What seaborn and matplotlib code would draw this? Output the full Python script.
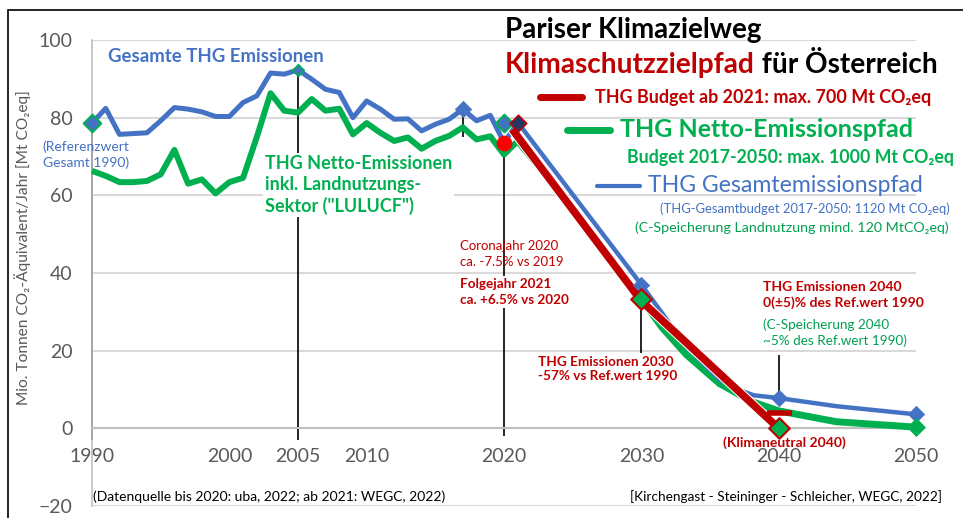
import matplotlib
matplotlib.use("Agg")
import matplotlib.pyplot as plt
import matplotlib.patheffects as pe
from matplotlib.lines import Line2D
from matplotlib.patches import Rectangle
from matplotlib.ticker import MultipleLocator
import seaborn as sns

# historic emissions (Mt CO2eq)
hist_years = list(range(1990, 2022))
total_hist = [78.6, 82.4, 75.7, 75.9, 76.1, 79.2, 82.6, 82.2, 81.5, 80.3, 80.3,
              83.9, 85.6, 91.5, 91.2, 92.3, 89.9, 87.3, 86.5, 80.0, 84.3, 82.2,
              79.6, 79.7, 76.6, 78.3, 79.6, 82.2, 79.2, 80.6, 73.6, 78.6]
net_hist = [66.3, 65.0, 63.4, 63.4, 63.7, 65.4, 71.7, 63.0, 64.1, 60.5, 63.4,
            64.5, 75.0, 86.3, 81.8, 81.3, 84.8, 81.8, 82.3, 75.7, 78.6, 76.1,
            74.0, 74.9, 72.0, 74.0, 75.3, 77.5, 74.4, 75.2, 70.5, 74.0]

# target paths
budget_years = [2020.6, 2030, 2040]
budget_path = [77.0, 32.8, 0.0]
net_years = [2021, 2023, 2026, 2028.7, 2030, 2031.5, 2033.3, 2035.7, 2038.1, 2040, 2044.2, 2050]
net_path = [74.0, 65.5, 51.8, 39.3, 33.3, 26.0, 18.9, 11.5, 6.8, 4.5, 1.7, 0.3]
total_years = [2021, 2030, 2033.3, 2035.7, 2037, 2038.2, 2040, 2044.2, 2050]
total_path = [78.8, 37.0, 21.0, 12.6, 10.0, 8.5, 7.8, 5.7, 3.6]

# markers
ref_years = [1990, 2020]
ref_vals = [78.6, 78.6]
total_mk_years = [2017, 2030, 2040, 2050]
total_mk_vals = [82.2, 37.0, 7.8, 3.6]
net_mk_years = [2030, 2040]
net_mk_vals = [33.3, 0.0]

# leader lines
lead_years = [1990, 2005, 2017, 2020, 2030, 2040, 2050]
lead_top = [77.0, 92.3, 82.2, 73.6, 33.3, 19.0, 3.6]
lead_bottom = [-3.0, -3.0, 75.0, -2.0, 19.5, 7.8, -2.0]

x_ticks = [1990, 2000, 2005, 2010, 2020, 2030, 2040, 2050]
y_ticks = [-20, 0, 20, 40, 60, 80, 100]

BLUE = "#4472C4"
GREEN = "#00B050"
RED = "#C00000"
GRAY = "#595959"

sns.set_theme(style="white")
plt.rcParams["font.family"] = ["Lato", "DejaVu Sans"]

W, H = 963, 518
fig = plt.figure(figsize=(W / 100, H / 100), dpi=100)
ax = fig.add_axes([92 / W, 12 / H, 824 / W, 466 / H])
ax.set_xlim(1990, 2050)
ax.set_ylim(-20, 100)

# axes styling
for s in ["top", "right"]:
    ax.spines[s].set_visible(False)
ax.spines["left"].set_color("#BFBFBF")
ax.spines["left"].set_linewidth(1.2)
ax.spines["bottom"].set_position(("data", 0))
ax.spines["bottom"].set_color("#BFBFBF")
ax.spines["bottom"].set_linewidth(1.5)
ax.set_xticks(x_ticks)
ax.set_yticks(y_ticks)
ax.xaxis.set_minor_locator(MultipleLocator(1))
ax.yaxis.set_minor_locator(MultipleLocator(5))
ax.tick_params(axis="x", which="both", direction="in", length=4, width=1.2,
               color="#BFBFBF", labelsize=14, labelcolor=GRAY, pad=14)
ax.tick_params(axis="y", which="major", length=0, labelsize=14, labelcolor=GRAY, pad=14)
ax.tick_params(axis="y", which="minor", direction="in", length=4, width=1.2, color="#BFBFBF")
ax.grid(axis="y", which="major", color="#D9D9D9", linewidth=1.5)
ax.grid(axis="x", visible=False)
ax.set_ylabel("Mio. Tonnen CO\u2082-Äquivalent/Jahr [Mt CO\u2082eq]", fontsize=11.2, color=GRAY)
ax.yaxis.set_label_coords(-0.074, 0.554)

# leader lines
ax.vlines(lead_years, lead_bottom, lead_top, color="black", linewidth=1.2, zorder=1.5, clip_on=False)

# data lines
sns.lineplot(x=hist_years, y=net_hist, ax=ax, color=GREEN, linewidth=4.3, zorder=4)
sns.lineplot(x=hist_years, y=total_hist, ax=ax, color=BLUE, linewidth=3.6, zorder=4.2)
sns.lineplot(x=net_years, y=net_path, ax=ax, color=GREEN, linewidth=5, zorder=4)
sns.lineplot(x=total_years, y=total_path, ax=ax, color=BLUE, linewidth=3.2, zorder=4.1)
sns.lineplot(x=budget_years, y=budget_path, ax=ax, color=RED, linewidth=5.5, zorder=4.3)
ax.lines[-1].set_path_effects([pe.Stroke(linewidth=7, foreground="white"), pe.Normal()])
for ln in ax.lines:
    ln.set_solid_capstyle("butt")
    ln.set_clip_on(False)

# markers
sns.scatterplot(x=ref_years, y=ref_vals, ax=ax, marker="D", s=80, color=BLUE,
                edgecolor=GREEN, linewidth=1.5, zorder=6, clip_on=False)
sns.scatterplot(x=[2005], y=[92.3], ax=ax, marker="D", s=35, color=BLUE,
                edgecolor=GREEN, linewidth=1.2, zorder=6)
sns.scatterplot(x=total_mk_years, y=total_mk_vals, ax=ax, marker="D", s=70, color=BLUE,
                edgecolor=BLUE, linewidth=0.5, zorder=6, clip_on=False)
sns.scatterplot(x=net_mk_years, y=net_mk_vals, ax=ax, marker="D", s=110, color=GREEN,
                edgecolor=RED, linewidth=1.5, zorder=6, clip_on=False)
sns.scatterplot(x=[2050], y=[0.3], ax=ax, marker="D", s=80, color=GREEN,
                edgecolor=GREEN, zorder=6, clip_on=False)
sns.scatterplot(x=[2021], y=[78.6], ax=ax, marker="D", s=70, color="#1F3864",
                edgecolor=RED, linewidth=1.2, zorder=6)
sns.scatterplot(x=[2020], y=[73.6], ax=ax, marker="o", s=110, color="#FF0000",
                edgecolor="#FF0000", zorder=6)
ax.plot([2040], [4.0], marker="_", markersize=18, markeredgewidth=4, color=RED, zorder=6)


def ftext(x, y, s, **kw):
    kw.setdefault("va", "center")
    return fig.text(x / W, 1 - y / H, s, **kw)


box = dict(facecolor="white", edgecolor="none", pad=1.5)

# titles and key
ftext(505, 30, "Pariser Klimazielweg", fontsize=20, fontweight="bold", color="black")
t = ftext(505, 78, "Klimaschutzzielpfad", fontsize=20.2, fontweight="bold", color=RED, va="bottom")
ax.annotate(" für Österreich", xy=(1, 0), xycoords=t, va="bottom", ha="left",
            fontsize=20.2, fontweight="bold", color="black", annotation_clip=False)

fig.add_artist(Line2D([540 / W, 582 / W], [1 - 97 / H] * 2, color=RED, linewidth=5))
ftext(595, 97, "THG Budget ab 2021: max. 700 Mt CO\u2082eq", fontsize=12.9, fontweight="bold", color=RED)
fig.add_artist(Line2D([567 / W, 610 / W], [1 - 130 / H] * 2, color=GREEN, linewidth=5))
ftext(620, 130, "THG Netto-Emissionspfad", fontsize=18, fontweight="bold", color=GREEN)
ftext(627, 157, "Budget 2017-2050: max. 1000 Mt CO\u2082eq", fontsize=12.8, fontweight="bold", color=GREEN)
fig.add_artist(Line2D([597 / W, 640 / W], [1 - 186 / H] * 2, color=BLUE, linewidth=3))
ftext(648, 185, "THG Gesamtemissionspfad", fontsize=16.6, color=BLUE)
ftext(660, 209, "(THG-Gesamtbudget 2017-2050: 1120 Mt CO\u2082eq)", fontsize=9.4, color=BLUE)
ftext(635, 228, "(C-Speicherung Landnutzung mind. 120 MtCO\u2082eq)", fontsize=10.3, color="#00A050")

# annotations
ftext(108, 57, "Gesamte THG Emissionen", fontsize=13.4, fontweight="bold", color=BLUE)
ftext(86, 155, "(Referenzwert\nGesamt 1990)", fontsize=10, color=BLUE, ha="center", linespacing=1.3)
ftext(265, 185, "THG Netto-Emissionen\ninkl. Landnutzungs-\nSektor (\"LULUCF\")", fontsize=13,
      fontweight="bold", color=GREEN, linespacing=1.25, bbox=box, zorder=3)
ftext(460, 254, "Coronajahr 2020\nca. -7.5% vs 2019", fontsize=9.5, color=RED, linespacing=1.3)
ftext(460, 292, "Folgejahr 2021\nca. +6.5% vs 2020", fontsize=9.7, fontweight="bold", color=RED,
      linespacing=1.3, bbox=box, zorder=3)
ftext(538, 369, "THG Emissionen 2030\n-57% vs Ref.wert 1990", fontsize=9.8, fontweight="bold",
      color=RED, linespacing=1.3)
ftext(763, 295, "THG Emissionen 2040\n0(±5)% des Ref.wert 1990", fontsize=10, fontweight="bold",
      color=RED, linespacing=1.3)
ftext(763, 333, "(C-Speicherung 2040\n~5% des Ref.wert 1990)", fontsize=9.7, color="#00A050",
      linespacing=1.3)
ftext(784, 443, "(Klimaneutral 2040)", fontsize=10, fontweight="bold", color=RED, ha="center")
ftext(93, 497, "(Datenquelle bis 2020: uba, 2022; ab 2021: WEGC, 2022)", fontsize=10, color="black")
ftext(942, 497, "[Kirchengast - Steininger - Schleicher, WEGC, 2022]", fontsize=9.8, color="black", ha="right")

# outer frame
fig.add_artist(Rectangle((8 / W, -0.1), 1.2, 1.1 - 10 / H, transform=fig.transFigure,
                         fill=False, edgecolor="black", linewidth=1.2))

fig.savefig("out.png", dpi=100)
